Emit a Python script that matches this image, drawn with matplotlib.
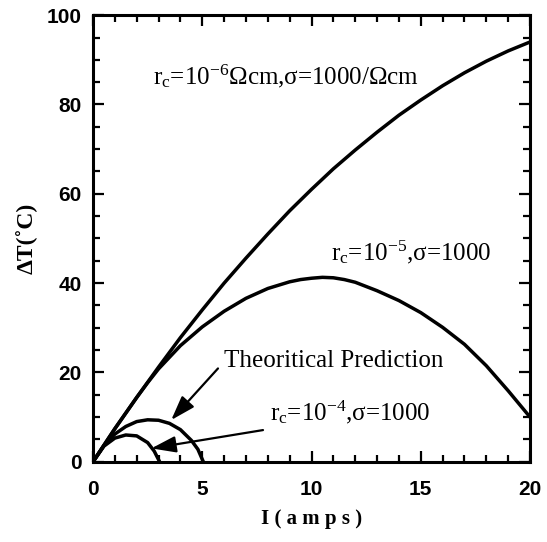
import matplotlib
matplotlib.use("Agg")
import matplotlib.pyplot as plt
from matplotlib.ticker import MultipleLocator

# Data
x_big = [0, 0.5, 1, 1.5, 2, 2.5, 3, 4, 5, 6, 7, 8, 9, 9.5, 10, 10.5, 11, 11.5, 12, 13, 14, 15, 16, 17, 18, 19, 20]
y_rc6 = [0, 3.7, 7.4, 10.9, 14.4, 17.8, 21.2, 27.8, 34.0, 40.0, 45.6, 51.0, 56.2, 58.6, 61.0, 63.3, 65.6, 67.7, 69.8,
         73.8, 77.6, 81.0, 84.2, 87.1, 89.7, 92.0, 94.0]
y_rc5 = [0, 3.7, 7.4, 10.9, 14.4, 17.7, 20.8, 26.0, 30.2, 33.7, 36.6, 38.8, 40.3, 40.8, 41.1, 41.3, 41.2, 40.8, 40.2,
         38.3, 36.1, 33.4, 30.1, 26.3, 21.5, 15.9, 10.0]

x_theory = [0, 0.5, 1, 1.5, 2, 2.5, 3, 3.5, 4, 4.5, 4.8, 5.05]
y_theory = [0, 3.6, 6.2, 7.9, 9.0, 9.4, 9.3, 8.6, 7.2, 4.8, 2.8, 0]

x_rc4 = [0, 0.5, 1, 1.5, 2, 2.5, 2.8, 3.05]
y_rc4 = [0, 3.5, 5.3, 6.0, 5.8, 4.3, 2.4, 0]

x_ticks = [0, 5, 10, 15, 20]
y_ticks = [0, 20, 40, 60, 80, 100]

serif = ["Liberation Serif", "DejaVu Serif"]
sans = ["Liberation Sans", "DejaVu Sans"]
plt.rcParams['mathtext.default'] = 'regular'

fig = plt.figure(figsize=(5.47, 5.42), dpi=100)
ax = fig.add_axes([0.170, 0.148, 0.799, 0.824])

lw = 2.5
for xs, ys in [(x_big, y_rc6), (x_big, y_rc5), (x_theory, y_theory), (x_rc4, y_rc4)]:
    ax.plot(xs, ys, color="black", lw=lw, solid_capstyle="round", solid_joinstyle="round")

ax.set_xlim(0, 20)
ax.set_ylim(0, 100)
ax.set_xticks(x_ticks)
ax.set_yticks(y_ticks)
ax.xaxis.set_minor_locator(MultipleLocator(1))
ax.yaxis.set_minor_locator(MultipleLocator(5))
ax.tick_params(which="both", direction="in", top=True, right=True, width=1.6)
ax.tick_params(which="major", length=8)
ax.tick_params(which="minor", length=5)
ax.tick_params(axis="x", which="major", pad=13)
ax.tick_params(axis="y", which="major", pad=8)
for lab in ax.get_xticklabels() + ax.get_yticklabels():
    lab.set_fontfamily(sans)
    lab.set_fontweight("bold")
    lab.set_fontsize(15)
for s in ax.spines.values():
    s.set_linewidth(2.2)

ax.set_xlabel("I ( a m p s )", fontfamily=serif, fontweight="bold", fontsize=15, labelpad=7)
ax.set_ylabel("ΔT(˚C)", fontfamily=serif, fontweight="bold", fontsize=17, labelpad=7)

fs = 18
ax.text(2.74, 84.5, r"$r_c$=10$^{-6}$Ωcm,σ=1000/Ωcm", fontfamily=serif, fontsize=fs)
ax.text(10.9, 45.2, r"$r_c$=10$^{-5}$,σ=1000", fontfamily=serif, fontsize=fs)
ax.text(6.0, 21.3, "Theoritical Prediction", fontfamily=serif, fontsize=fs)
ax.text(8.08, 9.35, r"$r_c$=10$^{-4}$,σ=1000", fontfamily=serif, fontsize=fs)

arrowprops = dict(arrowstyle="-|>,head_length=1.5,head_width=0.5", color="black", lw=1.6,
                  shrinkA=0, shrinkB=0)
ax.annotate("", xy=(3.58, 9.35), xytext=(5.72, 20.9), arrowprops=arrowprops)
ax.annotate("", xy=(2.67, 3.0), xytext=(7.78, 7.1), arrowprops=arrowprops)

fig.savefig("out.png", dpi=100)
